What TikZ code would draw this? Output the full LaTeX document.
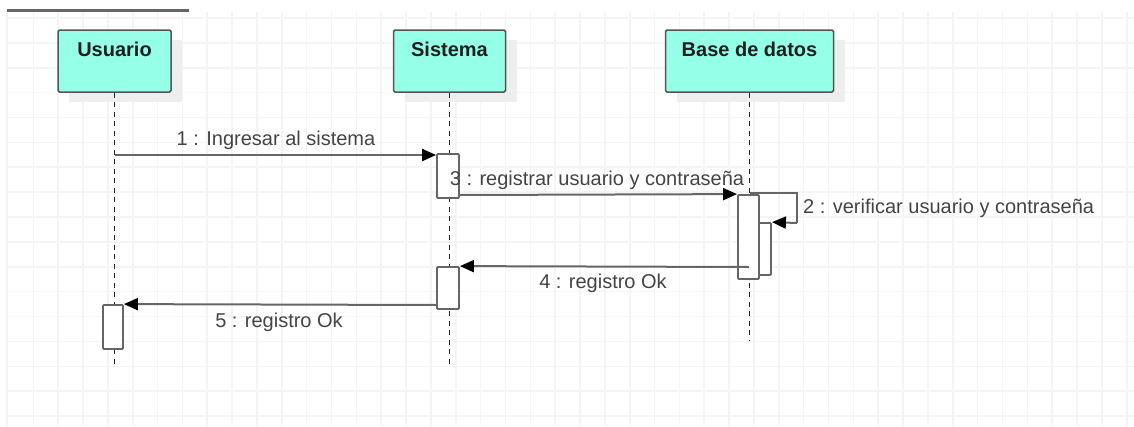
\documentclass[tikz,border=0pt]{standalone}
\usepackage{fontspec}
\setmainfont{Liberation Sans}
\usetikzlibrary{arrows.meta}
\definecolor{gridc}{RGB}{244,244,244}
\definecolor{headfill}{RGB}{150,255,232}
\definecolor{edgec}{RGB}{85,85,85}
\definecolor{linec}{RGB}{102,102,102}
\definecolor{labc}{RGB}{68,68,68}
\definecolor{titc}{RGB}{30,30,30}
\definecolor{shadc}{RGB}{238,238,238}
\tikzset{
  headbox/.style={draw=edgec, line width=1.5pt, fill=headfill, rounded corners=1.5pt, inner sep=0pt},
  shadowbox/.style={fill=shadc, draw=none, inner sep=0pt},
  actbox/.style={draw=linec, line width=1.8pt, fill=white, rounded corners=1pt, inner sep=0pt},
  lifeline/.style={draw=black!85, line width=1.5pt, dash pattern=on 5pt off 4.5pt},
  msg/.style={draw=linec, line width=2pt, -{Triangle[length=14pt,width=12pt,color=black]}},
  selfmsg/.style={draw=linec, line width=2pt},
  titletext/.style={font=\fontsize{20}{24}\selectfont\bfseries, text=titc, inner sep=0pt, anchor=base},
  msglabel/.style={font=\fontsize{20}{24}\selectfont, text=labc, inner sep=0pt, anchor=base},
}
\begin{document}
\begin{tikzpicture}[x=1pt,y=-1pt]
\useasboundingbox (0,0) rectangle (1134,426);
% grid
\foreach \i in {0,...,45} {
  \draw[gridc, line width=1.6pt] ({33.3+24.85*\i},12) -- ({33.3+24.85*\i},426);
}
\draw[gridc, line width=1.6pt] (7,12) -- (7,426);
\foreach \j in {0,...,16} {
  \draw[gridc, line width=1.6pt] (7,{18+24.88*\j}) -- (1134,{18+24.88*\j});
}
% top bar
\draw[linec, line width=3pt] (7,10) -- (189,10);
% shadows
\node[shadowbox, minimum width=113pt, minimum height=62pt] (ush) at (125.5,71) {};
\node[shadowbox, minimum width=112pt, minimum height=62pt] (ssh) at (460.5,71) {};
\node[shadowbox, minimum width=168pt, minimum height=62pt] (bsh) at (760.5,71) {};
% heads
\node[headbox, minimum width=113pt, minimum height=62pt] (u) at (114.5,61) {};
\node[headbox, minimum width=112pt, minimum height=62pt] (s) at (449.5,61) {};
\node[headbox, minimum width=168pt, minimum height=62pt] (b) at (749.5,61) {};
\node[titletext] (ut) at ([yshift=-27pt]u.north) {Usuario};
\node[titletext] (st) at ([yshift=-27pt]s.north) {Sistema};
\node[titletext] (bt) at ([yshift=-27pt]b.north) {Base de datos};
% lifeline ends
\coordinate (uend) at (114.5,367);
\coordinate (send) at (449.5,367);
\coordinate (bend) at (749.5,340);
\draw[lifeline] (u.south) -- (uend);
\draw[lifeline] (s.south) -- (send);
\draw[lifeline] (b.south) -- (bend);
% activations
\node[actbox, minimum width=22pt, minimum height=44pt] (s1) at (448,176) {};
\node[actbox, minimum width=21pt, minimum height=52pt] (b2) at (760.5,249) {};
\node[actbox, minimum width=21pt, minimum height=84pt] (b1) at (748.5,237) {};
\node[actbox, minimum width=22pt, minimum height=42pt] (s2) at (448,288) {};
\node[actbox, minimum width=20pt, minimum height=44pt] (u1) at (113,327) {};
% messages
\coordinate (m1a) at (114.5,155);
\draw[msg] (m1a) -- (s1.west |- m1a);
\coordinate (m3a) at (459,195);
\draw[msg] (m3a) -- (b1.north west);
\coordinate (m2a) at (749.5,192.5);
\coordinate (m2b) at (797,192.5);
\coordinate (m2c) at (797,223);
\draw[selfmsg] (m2a) -- (m2b) -- (m2c);
\draw[msg] (m2c) -- (b2.north east);
\coordinate (m4a) at (749,267);
\draw[msg] (m4a) -- (s2.north east);
\coordinate (m5a) at (437,305);
\draw[msg] (m5a) -- (u1.north east);
% labels
\node[msglabel] (l1) at (276,145) {1 : Ingresar al sistema};
\node[msglabel] (l3) at (597,185.7) {3 : registrar usuario y contraseña};
\node[msglabel, anchor=base west] (l2) at (803,213) {2 : verificar usuario y contraseña};
\node[msglabel] (l4) at (603,288) {4 : registro Ok};
\node[msglabel] (l5) at (279,327) {5 : registro Ok};
\end{tikzpicture}
\end{document}
